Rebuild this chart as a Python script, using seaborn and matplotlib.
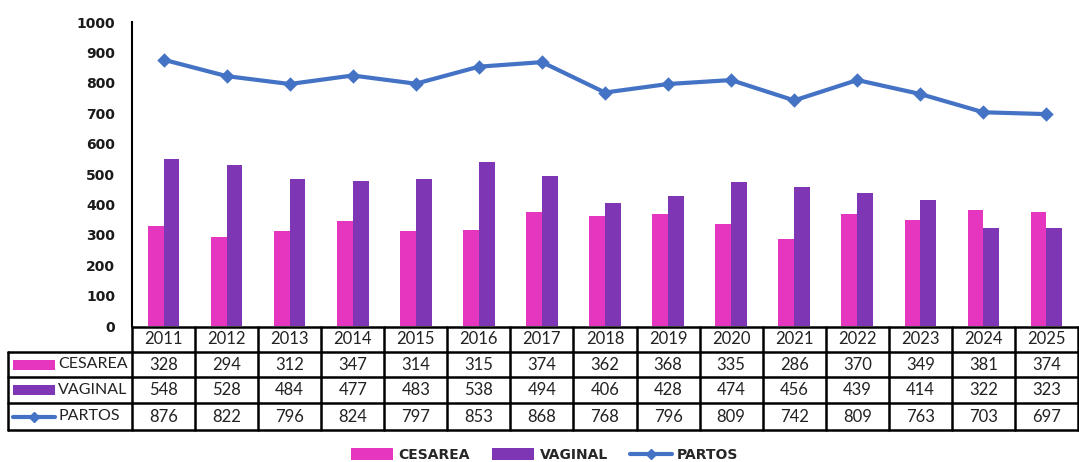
import numpy as np
import pandas as pd
import matplotlib
matplotlib.use("Agg")
import matplotlib.pyplot as plt
from matplotlib.lines import Line2D
from matplotlib.patches import Rectangle, Patch
from matplotlib.transforms import blended_transform_factory
import seaborn as sns

years = ["2011", "2012", "2013", "2014", "2015", "2016", "2017", "2018",
         "2019", "2020", "2021", "2022", "2023", "2024", "2025"]
cesarea = [328, 294, 312, 347, 314, 315, 374, 362, 368, 335, 286, 370, 349, 381, 374]
vaginal = [548, 528, 484, 477, 483, 538, 494, 406, 428, 474, 456, 439, 414, 322, 323]
partos = [876, 822, 796, 824, 797, 853, 868, 768, 796, 809, 742, 809, 763, 703, 697]
yticks = [0, 100, 200, 300, 400, 500, 600, 700, 800, 900, 1000]

PINK = "#E436BE"
PURPLE = "#7E36B4"
BLUE = "#4472C4"

sns.set_theme(style="white")
plt.rcParams["font.family"] = ["DejaVu Sans"]

W, H = 1079, 462
fig = plt.figure(figsize=(W / 100, H / 100), dpi=100)

# axes placed in pixel terms
left_px, right_px, top_px, bot_px = 132, 1078, 22, 326
ax = fig.add_axes([left_px / W, 1 - bot_px / H, (right_px - left_px) / W, (bot_px - top_px) / H])

df = pd.DataFrame({
    "Año": years * 2,
    "Valor": cesarea + vaginal,
    "Tipo": ["CESAREA"] * len(years) + ["VAGINAL"] * len(years),
})
sns.barplot(data=df, x="Año", y="Valor", hue="Tipo", order=years,
            hue_order=["CESAREA", "VAGINAL"], palette=[PINK, PURPLE],
            width=0.5, ax=ax, legend=False, saturation=1, edgecolor="none")
sns.pointplot(x=years, y=partos, order=years, color=BLUE, markers="D",
              markersize=5.5, linewidth=3, ax=ax)

ax.set_xlim(-0.5, len(years) - 0.5)
ax.set_ylim(0, 1000)
ax.set_yticks(yticks)
ax.set_yticklabels([str(v) for v in yticks], fontsize=10, fontweight="bold", color="#1a1a1a")
ax.set_xticks([])
ax.set_xlabel("")
ax.set_ylabel("")
ax.tick_params(axis="y", length=0, pad=12)
for s in ["top", "right", "bottom"]:
    ax.spines[s].set_visible(False)
ax.spines["left"].set_color("black")
ax.spines["left"].set_linewidth(1.5)

# data table under the axes
tr = blended_transform_factory(ax.transData, fig.transFigure)
col_w = (right_px - left_px) / len(years)

def fx(px):
    return -0.5 + (px - left_px) / col_w

def fy(py):
    return 1 - py / H

row_edges = [327, 352, 377, 403, 430]
lw = 1.8
# horizontal lines
ax.add_line(Line2D([fx(left_px), fx(right_px)], [fy(row_edges[0])] * 2, transform=tr,
                   color="black", lw=lw, clip_on=False))
for r in row_edges[1:]:
    ax.add_line(Line2D([fx(8), fx(right_px)], [fy(r)] * 2, transform=tr,
                       color="black", lw=lw, clip_on=False))
# vertical lines
for i in range(len(years) + 1):
    xv = -0.5 + i
    ax.add_line(Line2D([xv, xv], [fy(row_edges[0]), fy(row_edges[-1])], transform=tr,
                       color="black", lw=lw, clip_on=False))
ax.add_line(Line2D([fx(8), fx(8)], [fy(row_edges[1]), fy(row_edges[-1])], transform=tr,
                   color="black", lw=lw, clip_on=False))

cell_font = dict(fontsize=12, family="Lato", color="#222222", ha="center", va="center")
centers = [(row_edges[k] + row_edges[k + 1]) / 2 for k in range(4)]
for i, y in enumerate(years):
    ax.text(i, fy(centers[0]), y, transform=tr, **cell_font)
rows = [("CESAREA", cesarea), ("VAGINAL", vaginal), ("PARTOS", partos)]
for k, (name, vals) in enumerate(rows, start=1):
    for i, v in enumerate(vals):
        ax.text(i, fy(centers[k]), str(v), transform=tr, **cell_font)
    ax.text(fx(58), fy(centers[k]), name, transform=tr, fontsize=11.5, family="Lato",
            color="#222222", ha="left", va="center")

# series keys inside the table
key_x0, key_x1 = 13, 55
for k, col in [(1, PINK), (2, PURPLE)]:
    ax.add_patch(Rectangle((fx(key_x0), fy(centers[k] + 5)), fx(key_x1) - fx(key_x0),
                           fy(centers[k] - 5) - fy(centers[k] + 5), transform=tr,
                           facecolor=col, edgecolor="none", clip_on=False))
ax.add_line(Line2D([fx(key_x0), fx(key_x1)], [fy(centers[3])] * 2, transform=tr,
                   color=BLUE, lw=3, clip_on=False))
ax.add_line(Line2D([fx(34)], [fy(centers[3])], transform=tr, color=BLUE, marker="D",
                   markersize=5, lw=0, clip_on=False))

handles = [
    Patch(facecolor=PINK, edgecolor="none", label="CESAREA"),
    Patch(facecolor=PURPLE, edgecolor="none", label="VAGINAL"),
    Line2D([0], [0], color=BLUE, lw=3, marker="D", markersize=5, label="PARTOS"),
]
fig.legend(handles=handles, loc="center", bbox_to_anchor=(545 / W, 1 - 455 / H),
           ncol=3, frameon=False, prop={"weight": "bold", "size": 10},
           handlelength=3.0, handleheight=0.9, columnspacing=1.6, handletextpad=0.4)

fig.savefig("out.png", dpi=100, facecolor="white")
